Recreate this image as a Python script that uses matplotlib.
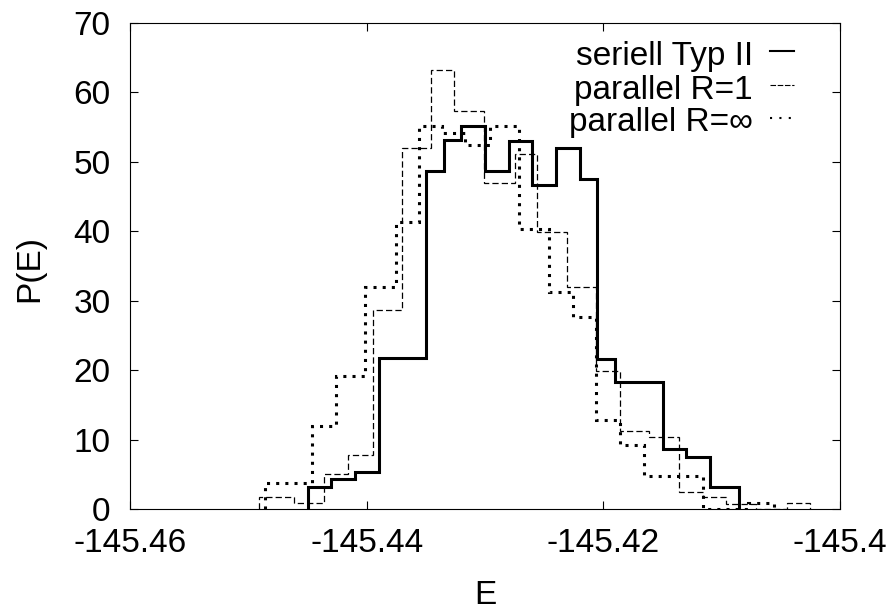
import matplotlib
matplotlib.use("Agg")
import matplotlib.pyplot as plt

plt.rcParams['font.family'] = ['Liberation Sans', 'DejaVu Sans']

# ---- data ----
serial_edges = [-145.4450, -145.4430, -145.4410, -145.4390, -145.4350, -145.4335,
                -145.4320, -145.4300, -145.4280, -145.4260, -145.4240, -145.4220,
                -145.4205, -145.4190, -145.4150, -145.4130, -145.4110, -145.4085]
serial_vals = [3.2, 4.3, 5.4, 21.7, 48.7, 53.1, 55.2, 48.7, 53.0, 46.6, 52.0, 47.6,
               21.6, 18.3, 8.6, 7.5, 3.2]

par1_edges = [-145.4491, -145.4461, -145.4436, -145.4416, -145.4395, -145.4370,
              -145.4346, -145.4326, -145.4301, -145.4275, -145.4256, -145.4231,
              -145.4206, -145.4186, -145.4161, -145.4136, -145.4116, -145.4096,
              -145.4071, -145.4045, -145.4025]
par1_vals = [1.7, 0.8, 5.1, 7.8, 28.6, 52.0, 63.3, 57.3, 46.9, 51.2, 39.9, 32.0,
             19.9, 11.3, 10.3, 2.5, 1.8, 0.7, 0.0, 0.8]

parinf_edges = [-145.4486, -145.4446, -145.4426, -145.4401, -145.4375, -145.4356,
                -145.4336, -145.4317, -145.4296, -145.4271, -145.4246, -145.4226,
                -145.4206, -145.4186, -145.4166, -145.4116, -145.4078, -145.4056]
parinf_vals = [3.7, 11.9, 19.2, 32.0, 41.4, 55.2, 54.2, 52.4, 55.2, 40.4, 31.3, 27.7,
               12.8, 9.2, 4.7, 0.0, 0.9]

labels = ["seriell Typ II", "parallel R=1", "parallel R=\u221e"]
xticks = [-145.46, -145.44, -145.42, -145.40]
xticklabels = ["-145.46", "-145.44", "-145.42", "-145.4"]
yticks = [0, 10, 20, 30, 40, 50, 60, 70]

# ---- figure ----
W, H, DPI = 896, 616, 100
fig = plt.figure(figsize=(W / DPI, H / DPI), dpi=DPI)
L, R, T, B = 130, 840, 23, 509
ax = fig.add_axes([L / W, 1 - B / H, (R - L) / W, (B - T) / H])

FS = 24
styles = [
    dict(color='black', lw=2.2, linestyle='-'),
    dict(color='black', lw=0.9, linestyle=(0, (5, 2.5))),
    dict(color='black', lw=2.2, linestyle=(0, (1, 2))),
]
key_styles = [
    dict(color='black', lw=1.5, linestyle='-'),
    dict(color='black', lw=0.8, linestyle=(0, (5, 1.5))),
    dict(color='black', lw=1.5, linestyle=(0, (1, 3.5))),
]
data = [(serial_vals, serial_edges), (par1_vals, par1_edges), (parinf_vals, parinf_edges)]
for (v, e), st in zip(data, styles):
    ax.stairs(v, e, baseline=0, **st)

ax.set_xlim(-145.46, -145.40)
ax.set_ylim(0, 70)
ax.set_xticks(xticks, xticklabels)
ax.set_yticks(yticks)
ax.tick_params(direction='in', length=6, width=0.8, top=True, right=True,
               labelsize=FS, pad=14)
for s in ax.spines.values():
    s.set_linewidth(0.8)

# legend (gnuplot style: text right-aligned, sample on the right)
text_x = (753 - L) / (R - L)
s0 = (770 - L) / (R - L)
s1 = (794 - L) / (R - L)
baselines = [65, 98.5, 131]
centers = [51, 85, 118]
for lab, st, bl, c in zip(labels, key_styles, baselines, centers):
    ax.text(text_x, (B - bl) / (B - T), lab, transform=ax.transAxes,
            ha='right', va='baseline', fontsize=FS)
    yy = (B - c) / (B - T)
    ax.plot([s0, s1], [yy, yy], transform=ax.transAxes, clip_on=False, **st)

fig.text(30 / W, 1 - 268 / H, "P(E)", rotation=90, ha='center', va='center', fontsize=FS)
fig.text(485 / W, 1 - 595 / H, "E", ha='center', va='center', fontsize=FS)

fig.savefig("out.png", dpi=DPI)
